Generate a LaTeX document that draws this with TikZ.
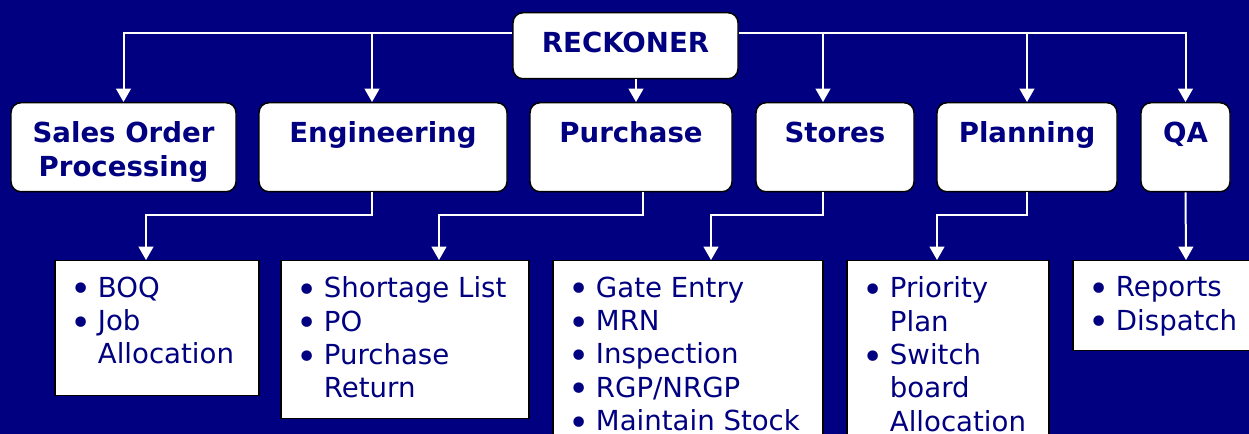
\documentclass[tikz,border=0pt]{standalone}
\usepackage{fontspec}
\setmainfont{DejaVu Sans}
\usetikzlibrary{arrows.meta,calc}
\definecolor{navy}{RGB}{0,0,128}
% one bullet line, continuation lines hang under the text
\newcommand\bitem[1]{\par\hangindent=20.6pt\hangafter=1\noindent\makebox[20.6pt][l]{\raisebox{-3.5pt}{\fontsize{27}{25}\selectfont •}}#1}
% width, height, items
\newcommand\blist[3]{\begin{minipage}[t][#2][t]{#1}\vspace{12pt}\leftskip=11.6pt\rightskip=0pt plus 1fil\parskip=0pt #3\end{minipage}}
% width, height, title
\newcommand\btitle[3]{\begin{minipage}[t][#2][t]{#1}\centering\vspace{12.5pt}\strut #3\end{minipage}}
\begin{document}
\begin{tikzpicture}[x=0.75pt,y=-0.75pt,
    head/.style={draw=black,line width=1.1pt,fill=white,rounded corners=7.5pt,
      text=navy,font=\fontsize{20.7}{25}\selectfont\bfseries,
      inner sep=0pt,anchor=north},
    listbox/.style={draw=black,line width=1.1pt,fill=white,text=navy,
      font=\fontsize{20.7}{25}\selectfont,inner sep=0pt,anchor=north},
    link/.style={white,line width=1.5pt,-{Triangle[width=11pt,length=10pt]}}]
    \clip (0,0) rectangle (1249,434);
    \fill[navy] (0,0) rectangle (1249,434);

    % Top
    \node[head] (reck) at (625.5,12) {\btitle{168.75pt}{49.5pt}{RECKONER}};

    % Modules
    \node[head] (sales) at (123.5,102) {\btitle{168.75pt}{66.75pt}{Sales Order\\Processing}};
    \node[head] (eng) at (383,102) {\btitle{186pt}{66.75pt}{Engineering}};
    \node[head] (pur) at (631,102) {\btitle{151.5pt}{66.75pt}{Purchase}};
    \node[head] (sto) at (835,102) {\btitle{118.5pt}{66.75pt}{Stores}};
    \node[head] (pla) at (1027,102) {\btitle{135pt}{66.75pt}{Planning}};
    \node[head] (qa) at (1185.5,102) {\btitle{66.75pt}{66.75pt}{QA}};

    % Activities
    \node[listbox] (boq) at (157,260) {\blist{153pt}{101.25pt}{\bitem{BOQ}\bitem{Job\newline Allocation}}};
    \node[listbox] (sho) at (405,260) {\blist{186pt}{118.5pt}{\bitem{Shortage List}\bitem{PO}\bitem{Purchase\newline Return}}};
    \node[listbox] (gat) at (688,260) {\blist{202.5pt}{150pt}{\bitem{Gate Entry}\bitem{MRN}\bitem{Inspection}\bitem{RGP/NRGP}\bitem{Maintain Stock}}};
    \node[listbox] (pri) at (948,260) {\blist{151.5pt}{150pt}{\bitem{Priority\newline Plan}\bitem{Switch\newline board\newline Allocation}}};
    \node[listbox] (rep) at (1186,260) {\blist{169.5pt}{67.5pt}{\bitem{Reports}\bitem{Dispatch}}};

    % Links from the top
    \coordinate (busL) at ($(reck.north west)+(0,21)$);
    \coordinate (busR) at ($(reck.north east)+(0,21)$);
    \coordinate (engIn) at ($(eng.north)+(-11,0)$);
    \coordinate (purIn) at ($(pur.north)+(5,0)$);
    \coordinate (stoIn) at ($(sto.north)+(-12,0)$);
    \draw[link] (busL) -| (sales.north);
    \draw[link] (busL -| engIn) -- (engIn);
    \draw[link] (reck.south -| purIn) -- (purIn);
    \draw[link] (busR) -| (qa.north);
    \draw[link] (busR -| stoIn) -- (stoIn);
    \draw[link] (busR -| pla.north) -- (pla.north);

    % Links to the activities
    \draw[link] ($(eng.south)+(-11,0)$) -- ++(0,23) -| ($(boq.north)+(-11,0)$);
    \draw[link] ($(pur.south)+(12,0)$) -- ++(0,23) -| ($(sho.north)+(34,0)$);
    \draw[link] ($(sto.south)+(-12,0)$) -- ++(0,23) -| ($(gat.north)+(23,0)$);
    \draw[link] (pla.south) -- ++(0,23) -| ($(pri.north)+(-11,0)$);
    \draw[link] (qa.south) -- (rep.north);
\end{tikzpicture}
\end{document}
